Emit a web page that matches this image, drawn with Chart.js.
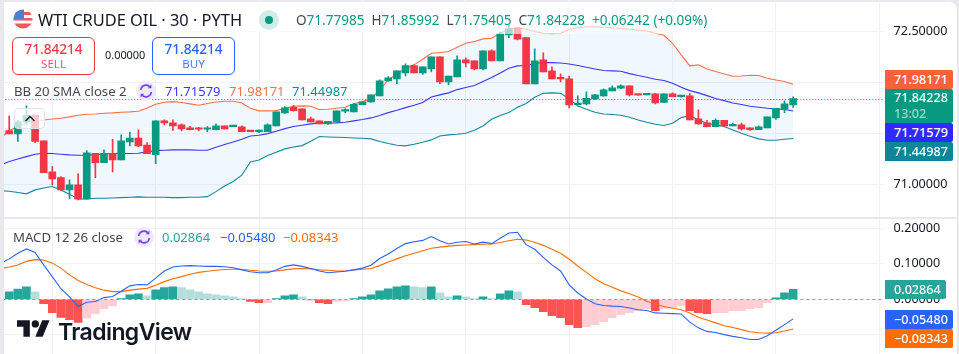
<!DOCTYPE html>
<html><head><meta charset="utf-8">
<script src="https://cdn.jsdelivr.net/npm/chart.js@4"></script>
<style>
html,body{margin:0;padding:0;width:959px;height:354px;overflow:hidden;background:#E9E9ED;font-family:"Noto Sans",sans-serif}
#panel{position:absolute;left:4px;top:2px;width:953px;height:352px;background:#fff;border-top-right-radius:8px}
#clip{position:absolute;left:4px;top:0;width:955px;height:354px;overflow:hidden}
canvas{position:absolute;left:-12px}
#c1{top:0}#c2{top:218px}
.t{position:absolute;white-space:pre;line-height:1}
#sep{position:absolute;left:4px;top:217px;width:953px;height:2px;background:#E6E8EF}
#veil{position:absolute;left:4px;top:3px;width:712px;height:31px;background:rgba(255,255,255,.62)}
.tag{position:absolute;left:885px;width:68px;height:19px;color:#fff;font-size:12.6px;line-height:19px;text-align:left;padding-left:9px;box-sizing:border-box;border-radius:0 2px 2px 0;font-weight:500}
.box{position:absolute;top:37px;width:83px;height:38px;border-radius:6px;box-sizing:border-box;border:1px solid;background:#fff;text-align:center}
.box b{display:block;font-weight:500;font-size:13.6px;line-height:14px;margin-top:4px}
.box span{display:block;font-size:11.6px;line-height:15px;opacity:.85}
#btn{position:absolute;left:14px;top:108px;width:31px;height:21px;border:1px solid #E0E3EB;border-radius:4px;box-sizing:border-box;background:rgba(255,255,255,.72)}
</style></head><body>
<div id="panel"></div>
<div id="clip">
<canvas id="c1" width="967" height="218"></canvas>
<canvas id="c2" width="967" height="136"></canvas>
</div>
<div id="sep"></div>
<div id="veil"></div>
<div id="overlay"></div>
<svg style="position:absolute;left:17px;top:320px" width="33" height="17" viewBox="0 4 36 18"><path fill="#131722" d="M14 22H7V11H0V4h14v18zM28 22h-8l7.5-18h8L28 22z"/><circle fill="#131722" cx="20" cy="8" r="4"/></svg>
<div class="t" style="left:58px;top:318px;font:600 23px Inter,sans-serif;color:#131722;letter-spacing:-.6px">TradingView</div>
<div id="btn"><svg width="29" height="19" viewBox="0 0 29 19"><path d="M10.5 12l4.5-4.5 4.5 4.5" fill="none" stroke="#131722" stroke-width="1.4"/></svg></div>
<script>
const categories = Array.from({length:103},(_,i)=>String(i));
const opens=[null,71.528,71.495,71.613,71.681,71.426,71.122,71.066,70.945,70.994,70.856,
71.305,71.213,71.305,71.239,71.416,71.455,71.384,71.292,71.623,71.603,
71.583,71.554,71.547,71.541,71.537,71.573,71.567,71.564,71.524,71.518,
71.518,71.573,71.701,71.757,71.740,71.642,71.623,71.593,71.613,71.718,
71.711,71.783,71.809,71.868,72.015,72.035,72.094,72.166,72.094,72.133,
72.251,72.006,72.055,72.222,72.212,72.133,72.310,72.212,72.467,72.533,
72.441,71.986,72.222,72.114,72.042,72.035,71.783,71.790,71.839,71.868,
71.917,71.943,71.966,71.878,71.878,71.888,71.803,71.888,71.861,71.868,
71.642,71.603,71.567,71.629,71.573,71.583,71.554,71.537,71.554,71.652,
71.740,71.780];
const closes=[null,71.495,71.613,71.678,71.420,71.115,71.053,70.945,70.994,70.853,71.308,
71.213,71.305,71.239,71.426,71.455,71.377,71.302,71.623,71.603,71.573,
71.544,71.537,71.541,71.547,71.573,71.544,71.573,71.518,71.518,71.524,
71.583,71.711,71.750,71.724,71.632,71.613,71.593,71.619,71.721,71.724,
71.786,71.809,71.878,72.015,72.045,72.114,72.166,72.094,72.153,72.251,
72.006,72.064,72.222,72.192,72.133,72.310,72.212,72.477,72.526,72.425,
71.986,72.212,72.104,72.035,72.035,71.780,71.790,71.845,71.878,71.927,
71.947,71.966,71.878,71.875,71.884,71.799,71.888,71.861,71.868,71.632,
71.593,71.567,71.629,71.573,71.583,71.544,71.537,71.564,71.662,71.747,
71.790,71.842];
const highs=[null,71.672,71.626,71.770,71.681,71.426,71.174,71.076,71.043,71.102,71.331,
71.305,71.338,71.442,71.485,71.514,71.534,71.410,71.623,71.632,71.632,
71.593,71.570,71.560,71.567,71.593,71.573,71.573,71.573,71.524,71.534,
71.593,71.711,71.763,71.776,71.740,71.659,71.623,71.619,71.721,71.744,
71.796,71.809,71.878,72.025,72.058,72.114,72.182,72.173,72.153,72.251,
72.251,72.064,72.261,72.241,72.212,72.310,72.320,72.493,72.575,72.533,
72.441,72.330,72.290,72.153,72.084,72.064,71.868,71.907,71.884,71.937,
71.966,71.976,71.966,71.878,71.884,71.894,71.888,71.898,71.868,71.891,
71.731,71.629,71.642,71.629,71.600,71.600,71.554,71.573,71.662,71.747,
71.819,71.860];
const lows=[null,71.495,71.420,71.583,71.410,71.115,70.994,70.938,70.856,70.847,70.853,
71.066,71.213,71.122,71.239,71.377,71.370,71.302,71.203,71.583,71.528,
71.524,71.534,71.524,71.518,71.534,71.544,71.567,71.514,71.518,71.508,
71.518,71.573,71.695,71.718,71.632,71.613,71.593,71.587,71.613,71.704,
71.711,71.783,71.803,71.868,72.012,71.989,72.064,72.094,72.078,72.104,
71.989,71.979,72.055,72.153,72.123,72.123,72.212,72.212,72.441,72.418,
71.986,71.986,72.104,72.035,72.006,71.750,71.780,71.780,71.832,71.865,
71.917,71.940,71.868,71.875,71.878,71.790,71.803,71.858,71.855,71.632,
71.587,71.564,71.564,71.564,71.573,71.531,71.528,71.537,71.554,71.636,
71.704,71.754];
const bbUpper=[71.452,71.528,71.564,71.606,71.629,71.632,71.642,71.649,71.662,71.678,71.688,
71.691,71.698,71.701,71.708,71.711,71.718,71.750,71.786,71.806,71.812,
71.803,71.790,71.776,71.793,71.809,71.816,71.816,71.799,71.747,71.721,
71.721,71.724,71.747,71.767,71.770,71.767,71.734,71.737,71.747,71.757,
71.790,71.812,71.839,71.927,72.025,72.084,72.140,72.173,72.228,72.287,
72.294,72.304,72.346,72.385,72.402,72.428,72.434,72.484,72.523,72.539,
72.523,72.500,72.484,72.480,72.484,72.523,72.539,72.546,72.546,72.543,
72.536,72.533,72.523,72.513,72.507,72.484,72.464,72.385,72.271,72.163,
72.173,72.133,72.107,72.084,72.061,72.064,72.071,72.068,72.042,72.025,
72.009,71.982];
const bbBasis=[71.190,71.223,71.249,71.272,71.295,71.305,71.302,71.295,71.289,71.285,71.285,
71.292,71.298,71.302,71.302,71.302,71.305,71.318,71.331,71.334,71.338,
71.338,71.338,71.334,71.334,71.364,71.390,71.416,71.442,71.475,71.482,
71.498,71.521,71.547,71.567,71.580,71.593,71.603,71.600,71.603,71.609,
71.623,71.636,71.652,71.675,71.704,71.727,71.753,71.776,71.803,71.858,
71.878,71.898,71.930,71.950,71.970,72.009,72.048,72.094,72.140,72.163,
72.166,72.186,72.195,72.195,72.192,72.182,72.166,72.150,72.133,72.117,
72.114,72.110,72.087,72.068,72.051,72.032,72.019,71.992,71.953,71.920,
71.898,71.871,71.842,71.822,71.799,71.783,71.767,71.757,71.747,71.740,
71.734,71.720];
const bbLower=[70.935,70.932,70.919,70.906,70.945,70.964,70.978,70.945,70.902,70.856,70.856,
70.863,70.863,70.866,70.869,70.873,70.876,70.873,70.873,70.873,70.869,
70.869,70.873,70.873,70.879,70.928,70.984,71.027,71.089,71.220,71.239,
71.282,71.315,71.348,71.367,71.380,71.423,71.469,71.465,71.462,71.459,
71.455,71.452,71.446,71.420,71.400,71.384,71.377,71.393,71.413,71.436,
71.475,71.485,71.492,71.501,71.531,71.573,71.639,71.675,71.704,71.757,
71.793,71.855,71.894,71.898,71.894,71.839,71.770,71.737,71.708,71.691,
71.685,71.678,71.659,71.632,71.609,71.590,71.577,71.600,71.655,71.675,
71.632,71.600,71.583,71.567,71.534,71.501,71.472,71.446,71.433,71.433,
71.442,71.450];
const macdLine=[.102,.114,.130,.142,.132,.097,.064,.030,.007,-.020,-.008,
-.006,.005,.008,.023,.038,.042,.041,.060,.080,.091,
.094,.095,.094,.093,.093,.092,.089,.083,.078,.075,
.075,.083,.093,.097,.093,.087,.080,.075,.077,.079,
.083,.088,.096,.115,.128,.143,.157,.162,.166,.177,
.165,.156,.161,.163,.156,.161,.157,.172,.187,.189,
.154,.141,.118,.097,.080,.041,.018,.001,-.012,-.017,
-.019,-.020,-.024,-.029,-.031,-.038,-.039,-.040,-.041,-.064,
-.080,-.090,-.093,-.099,-.104,-.108,-.113,-.113,-.102,-.087,
-.071,-.0548];
const signalLine=[.087,.091,.097,.107,.112,.111,.102,.088,.069,.053,.042,
.033,.026,.022,.022,.026,.029,.031,.040,.050,.058,
.064,.071,.076,.079,.082,.084,.085,.085,.082,.080,
.079,.080,.083,.086,.087,.086,.083,.082,.080,.080,
.083,.085,.087,.095,.105,.114,.123,.130,.137,.144,
.147,.150,.152,.153,.154,.155,.156,.160,.165,.169,
.167,.161,.152,.141,.130,.113,.094,.076,.058,.044,
.034,.024,.016,.007,-.005,-.013,-.020,-.025,-.029,-.038,
-.050,-.058,-.066,-.074,-.079,-.085,-.091,-.094,-.095,-.094,
-.089,-.0834];
const histogram=[null,.0215,.029,.0355,.0215,-.012,-.037,-.051,-.057,-.065,-.053,
-.040,-.026,-.018,.002,.013,.016,.010,.027,.033,.0355,
.033,.027,.0215,.016,.013,.010,.0075,.002,-.0056,-.0093,
-.0093,.002,.010,.013,.0075,-.001,-.0093,-.012,-.0056,-.004,
.002,.0075,.013,.024,.030,.0355,.038,.0355,.033,.0355,
.0187,.0075,.010,.0075,.002,.0075,.002,.016,.024,.0215,
-.015,-.0234,-.0346,-.0458,-.0514,-.071,-.0794,-.0766,-.071,-.0626,
-.0514,-.043,-.0374,-.0318,-.026,-.0318,-.026,-.0234,-.0178,-.0318,
-.0374,-.040,-.0374,-.0374,-.0318,-.0318,-.026,-.0234,-.0093,.0047,
.0187,.0286];
const lastPrice=71.84228;
const ohlcLabels=["O","H","L","C"];
const ohlcValues=["71.77985","71.85992","71.75405","71.84228"];
const changeText="+0.06242 (+0.09%)";
const bbValues=["71.71579","71.98171","71.44987"];
const macdValues=["0.02864","\u22120.05480","\u22120.08343"];
const quote="71.84214", spread="0.00000", countdown="13:02";

const UP='#089981',DOWN='#F23645',GRID='#F0F2F6';
const AXW=75.4, PADL=4.3;
const FONT='"Noto Sans",sans-serif', TICKFONT={family:FONT,size:12.6};
const fmt=v=>Number(v).toFixed(5);
const xAxis={offset:true,border:{display:false},
  afterFit(s){s.height=0;s.paddingLeft=0;s.paddingRight=0;},
  ticks:{display:false,autoSkip:false},
  grid:{offset:false,drawTicks:false,color:c=>c.index%12===6?GRID:'transparent'}};
const yAxis=(min,max,step)=>({position:'right',min,max,border:{display:false},
  afterFit(s){s.width=AXW;s.paddingTop=0;s.paddingBottom=0;},
  ticks:{stepSize:step,includeBounds:false,padding:10,color:'#131722',font:TICKFONT,callback:fmt},
  grid:{drawTicks:false,color:GRID}});
const base=(scales,plugins)=>({type:'bar',plugins,options:{responsive:false,animation:false,
  layout:{padding:{left:PADL,right:0,top:0,bottom:0}},
  plugins:{legend:{display:false},tooltip:{enabled:false}},scales}});
const line=(data,color,order,extra)=>Object.assign({type:'line',data,borderColor:color,borderWidth:1.1,pointRadius:0,tension:0,order},extra||{});

function refLine(value,color,dash,w){return {id:'ref'+color.slice(1),afterDatasetsDraw(ch){
  const {ctx,chartArea:a,scales:{y}}=ch,py=Math.round(y.getPixelForValue(value))+.5;
  ctx.save();ctx.strokeStyle=color;ctx.setLineDash(dash);ctx.lineWidth=w;
  ctx.beginPath();ctx.moveTo(a.left,py);ctx.lineTo(a.right,py);ctx.stroke();ctx.restore();}}}

const candleColor=opens.map((o,i)=>closes[i]>=o?UP:DOWN);
const cfg1=base({x:xAxis,y:yAxis(70.669,72.810,.5)},[refLine(lastPrice,UP,[1,2],1)]);
cfg1.data={labels:categories,datasets:[
  line(bbUpper,'#F7704B',4,{fill:{target:2,above:'rgba(33,150,243,.065)',below:'rgba(33,150,243,.065)'}}),
  line(bbBasis,'#3A36FF',3),
  line(bbLower,'#14899A',3),
  {data:lows.map((l,i)=>l===null?null:[l,highs[i]]),backgroundColor:candleColor,barThickness:1,grouped:false,order:1},
  {data:opens.map((o,i)=>o===null?null:[o,closes[i]]),backgroundColor:candleColor,barThickness:7,grouped:false,minBarLength:1.5,order:0}
]};
new Chart(document.getElementById('c1'),cfg1);

const histColor=histogram.map((v,i)=>{const p=histogram[i-1]||0;
  return v>=0?(v>=p?'#26A69A':'#B2DFDB'):(v<p?'#FF5252':'#FFCDD2');});
const cfg2=base({x:xAxis,y:yAxis(-.1536,.229,.1)},[refLine(0,'#9598A1',[3,3],1)]);
cfg2.data={labels:categories,datasets:[
  {data:histogram,backgroundColor:histColor,barThickness:8,grouped:false,order:3},
  line(macdLine,'#2962FF',1),
  line(signalLine,'#FF6D00',2)
]};
new Chart(document.getElementById('c2'),cfg2);

/* text overlay */
const ov=document.getElementById('overlay');
const add=(html,css,cls)=>{const d=document.createElement('div');d.className=cls||'t';d.style.cssText=css;d.innerHTML=html;ov.appendChild(d);return d;};
const syncIcon=(x,y)=>`<svg style="position:absolute;left:${x}px;top:${y}px" width="20" height="20" viewBox="0 0 20 20"><circle cx="10" cy="10" r="10" fill="#EFE9FE"/><path d="M4.7 9a5.4 5.4 0 0 1 9.6-2.8M15.3 11a5.4 5.4 0 0 1-9.6 2.8" fill="none" stroke="#7B3FF2" stroke-width="1.6"/><path d="M15.4 3.6v3.6h-3.6zM4.6 16.4v-3.6h3.6z" fill="#7B3FF2"/></svg>`;
add(`<svg width="20" height="20" viewBox="0 0 20 20" style="position:absolute;left:13px;top:9px"><defs><clipPath id="fc"><circle cx="10" cy="10" r="9.6"/></clipPath></defs><g clip-path="url(#fc)"><rect width="20" height="20" fill="#fff"/><rect y="3" width="20" height="3" fill="#F05A5F"/><rect y="9" width="20" height="2.6" fill="#F05A5F"/><rect y="14.5" width="20" height="5.5" fill="#F05A5F"/><rect width="11" height="10" fill="#4A7FD6"/></g></svg>`,'left:0;top:0');
add('WTI CRUDE OIL \u00B7 30 \u00B7 PYTH','left:38px;top:12px;font-size:16.4px;color:#131722');
add('<svg width="22" height="22" style="position:absolute;left:258px;top:9px"><circle cx="11" cy="11" r="10" fill="#CFEDE6"/><circle cx="11" cy="11" r="4" fill="#089981"/></svg>','left:0;top:0');
let oh='';ohlcLabels.forEach((l,i)=>{oh+=`<span style="color:#434651">${l}</span>${ohlcValues[i]}  `});
add(oh+changeText,`left:296px;top:14px;font-size:13.55px;color:${UP}`);
add(`<b style="color:${DOWN}">${quote}</b><span style="color:${DOWN}">SELL</span>`,`left:12px;border-color:${DOWN}`,'box');
add(spread,'left:105px;top:50px;font-size:10.9px;color:#131722');
add(`<b style="color:#2962FF">${quote}</b><span style="color:#2962FF">BUY</span>`,'left:152px;border-color:#2962FF','box');
add('BB 20 SMA close 2','left:14px;top:85px;font-size:13.2px;color:#434651');
add(syncIcon(136,81),'left:0;top:0');
add(bbValues[0],'left:165px;top:85px;font-size:13px;color:#3A36FF');
add(bbValues[1],'left:229px;top:85px;font-size:13px;color:#F7704B');
add(bbValues[2],'left:292px;top:85px;font-size:13px;color:#14899A');
add('MACD 12 26 close','left:13px;top:231px;font-size:13.2px;color:#434651');
add(syncIcon(134,227),'left:0;top:0');
add(macdValues[0],'left:162px;top:231px;font-size:13px;color:#26A69A');
add(macdValues[1],'left:220px;top:231px;font-size:13px;color:#2962FF');
add(macdValues[2],'left:283px;top:231px;font-size:13px;color:#FF6D00');
add(bbValues[1],'top:70px;background:#F7623B','tag');
add(`${ohlcValues[3]}<br><span style="opacity:.6">${countdown}</span>`,'top:89px;height:34px;line-height:16px;padding-top:1px;background:#089981','tag');
add(bbValues[0],'top:123px;background:#2F2BFF','tag');
add(bbValues[2],'top:142px;background:#0E8598','tag');
add(macdValues[0],'top:280px;width:61px;background:#26A69A','tag');
add(macdValues[1],'top:310px;background:#2962FF','tag');
add(macdValues[2],'top:329px;background:#FF6D00','tag');
</script>
</body></html>
